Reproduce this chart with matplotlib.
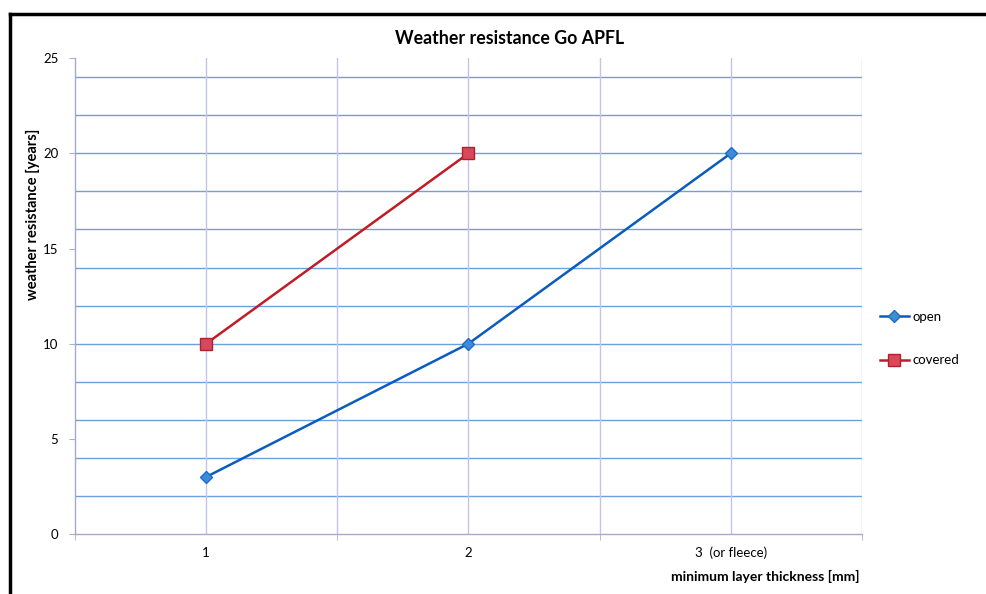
import matplotlib
matplotlib.use("Agg")
import matplotlib.pyplot as plt
from matplotlib.lines import Line2D

plt.rcParams['font.family'] = ['Lato', 'DejaVu Sans']

# data
thickness = [1, 2, 3]
x_labels = ['1', '2', '3  (or fleece)']
open_years = [3, 10, 20]
covered_thickness = [1, 2]
covered_years = [10, 20]

fig = plt.figure(figsize=(9.86, 5.94), dpi=100)
fig.patch.set_facecolor('white')
ax = fig.add_axes([0.0761, 0.101, 0.798, 0.801])

# grid: horizontal every 2 years, vertical every half step
for y in range(2, 25, 2):
    ax.axhline(y, color='#6f9fdc', lw=1.0, zorder=1)
for x in [1, 1.5, 2, 2.5, 3, 3.5]:
    ax.axvline(x, color='#c4c4ea', lw=1.0, zorder=1)

ax.plot(thickness, open_years, color='#0b5cbd', lw=1.8, marker='D', ms=6.5,
        mfc='#3d8bdb', mec='#1f6cc8', label='open', zorder=3)
ax.plot(covered_thickness, covered_years, color='#c01c28', lw=1.8, marker='s', ms=8,
        mfc='#d8485a', mec='#b0202c', label='covered', zorder=3)

ax.set_xlim(0.5, 3.5)
ax.set_ylim(0, 25)
ax.set_yticks([0, 5, 10, 15, 20, 25])
ax.set_xticks(thickness)
ax.set_xticklabels(x_labels)
ax.set_xticks([0.5, 1.5, 2.5, 3.5], minor=True)
ax.tick_params(axis='x', which='major', length=0, pad=9, labelsize=9.5)
ax.tick_params(axis='x', which='minor', length=4, color='#b0b0c8', direction='out')
ax.tick_params(axis='y', length=4, color='#b0b0c8', labelsize=9.5, pad=8)

for side in ['top', 'right']:
    ax.spines[side].set_visible(False)
for side in ['left', 'bottom']:
    ax.spines[side].set_color('#a8a8c8')
    ax.spines[side].set_linewidth(1.0)

fig.text(0.517, 0.936, 'Weather resistance Go APFL', ha='center', va='center',
         fontsize=12.8, fontweight='bold')
fig.text(0.033, 0.640, 'weather resistance [years]', rotation=90, ha='center',
         va='center', fontsize=10.5, fontweight='bold')
fig.text(0.872, 0.030, 'minimum layer thickness [mm]', ha='right', va='center',
         fontsize=10, fontweight='bold')

fig.legend(loc='upper left', bbox_to_anchor=(0.892, 0.477), frameon=False,
           fontsize=9.5, handlelength=2.2, handletextpad=0.3, labelspacing=2.4,
           borderpad=0, borderaxespad=0)

# scanned page frame
fig.add_artist(Line2D([0.010, 1.0], [0.976, 0.976], color='black', lw=2.5))
fig.add_artist(Line2D([0.010, 0.010], [0.0, 0.976], color='black', lw=2.5))

fig.savefig('out.png', dpi=100, facecolor='white')
